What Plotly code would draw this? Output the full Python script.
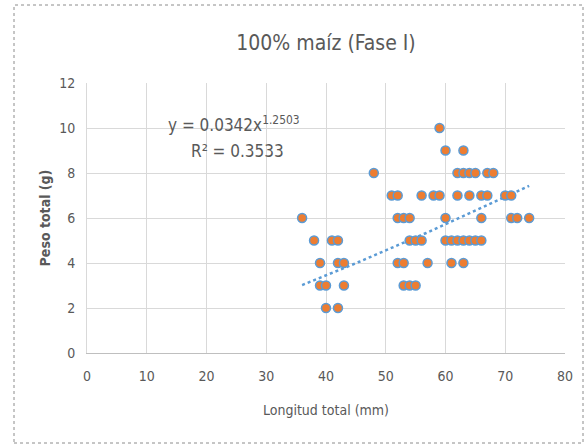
import numpy as np
import plotly.graph_objects as go

# Data
longitud = [59,
            60, 63,
            48, 62, 63, 64, 65, 67, 68,
            51, 52, 56, 58, 59, 62, 64, 66, 67, 70, 71,
            36, 52, 53, 54, 60, 66, 71, 72, 74,
            38, 41, 42, 54, 55, 56, 60, 61, 62, 63, 64, 65, 66,
            39, 42, 43, 52, 53, 57, 61, 63,
            39, 40, 43, 53, 54, 55,
            40, 42]
peso = [10,
        9, 9,
        8, 8, 8, 8, 8, 8, 8,
        7, 7, 7, 7, 7, 7, 7, 7, 7, 7, 7,
        6, 6, 6, 6, 6, 6, 6, 6, 6,
        5, 5, 5, 5, 5, 5, 5, 5, 5, 5, 5, 5, 5,
        4, 4, 4, 4, 4, 4, 4, 4,
        3, 3, 3, 3, 3, 3,
        2, 2]

# Power trendline as printed on the chart: y = 0.0342 x^1.2503
coef_a = 0.0342
coef_b = 1.2503
trend_x = np.linspace(min(longitud), max(longitud), 120)
trend_y = coef_a * trend_x ** coef_b

x_ticks = [0, 10, 20, 30, 40, 50, 60, 70, 80]
y_ticks = [0, 2, 4, 6, 8, 10, 12]

FONT = "Liberation Sans Narrow, DejaVu Sans Condensed, Open Sans, sans-serif"
GREY = "#595959"

fig = go.Figure()
fig.add_trace(go.Scatter(
    x=trend_x, y=trend_y, mode="lines",
    line=dict(color="#5B9BD5", width=2.5, dash="dot"),
    hoverinfo="skip", showlegend=False))
fig.add_trace(go.Scatter(
    x=longitud, y=peso, mode="markers",
    marker=dict(size=9, color="#ED7D31", line=dict(color="#5B9BD5", width=1.5)),
    showlegend=False))

fig.update_layout(
    width=584, height=444,
    margin=dict(l=87, r=19, t=83, b=91),
    paper_bgcolor="white", plot_bgcolor="white",
    font=dict(family=FONT, color=GREY, size=14),
    title=dict(text="100% maíz (Fase I)", x=0.5, xanchor="center",
               xref="paper", y=1 - 43 / 444, yanchor="middle",
               font=dict(size=21, color=GREY, family=FONT)),
    xaxis=dict(range=[0, 80], tickvals=x_ticks, showgrid=True,
               gridcolor="#D9D9D9", gridwidth=1, zeroline=False,
               showline=True, linecolor="#BFBFBF", linewidth=1,
               ticks="", ticklen=0, ticklabelstandoff=10,
               tickfont=dict(size=14, color=GREY),
               title=dict(text="Longitud total (mm)", standoff=22,
                          font=dict(size=14, color=GREY))),
    yaxis=dict(range=[0, 12], tickvals=y_ticks, showgrid=True,
               gridcolor="#D9D9D9", gridwidth=1, zeroline=False,
               showline=True, linecolor="#D9D9D9", linewidth=1,
               ticks="", ticklen=0, ticklabelstandoff=8,
               tickfont=dict(size=14, color=GREY),
               title=dict(text="<b>Peso total (g)</b>", standoff=5,
                          font=dict(size=14, color=GREY))),
    annotations=[
        dict(text="y = 0.0342x<sup>1.2503</sup>", x=(234 - 87) / 478,
             y=(353 - 124) / 270, xref="paper", yref="paper",
             showarrow=False, xanchor="center", yanchor="middle",
             font=dict(size=17, color=GREY, family=FONT)),
        dict(text="R² = 0.3533", x=(237 - 87) / 478,
             y=(353 - 151) / 270, xref="paper", yref="paper",
             showarrow=False, xanchor="center", yanchor="middle",
             font=dict(size=17, color=GREY, family=FONT)),
    ],
    shapes=[dict(type="rect", xref="paper", yref="paper",
                 x0=(14 - 87) / 478, x1=(583 - 87) / 478,
                 y0=(353 - 443) / 270, y1=(353 - 5) / 270,
                 line=dict(color="#8C8C8C", width=1, dash="dot"),
                 layer="below")],
)

fig.write_html("out.html")
